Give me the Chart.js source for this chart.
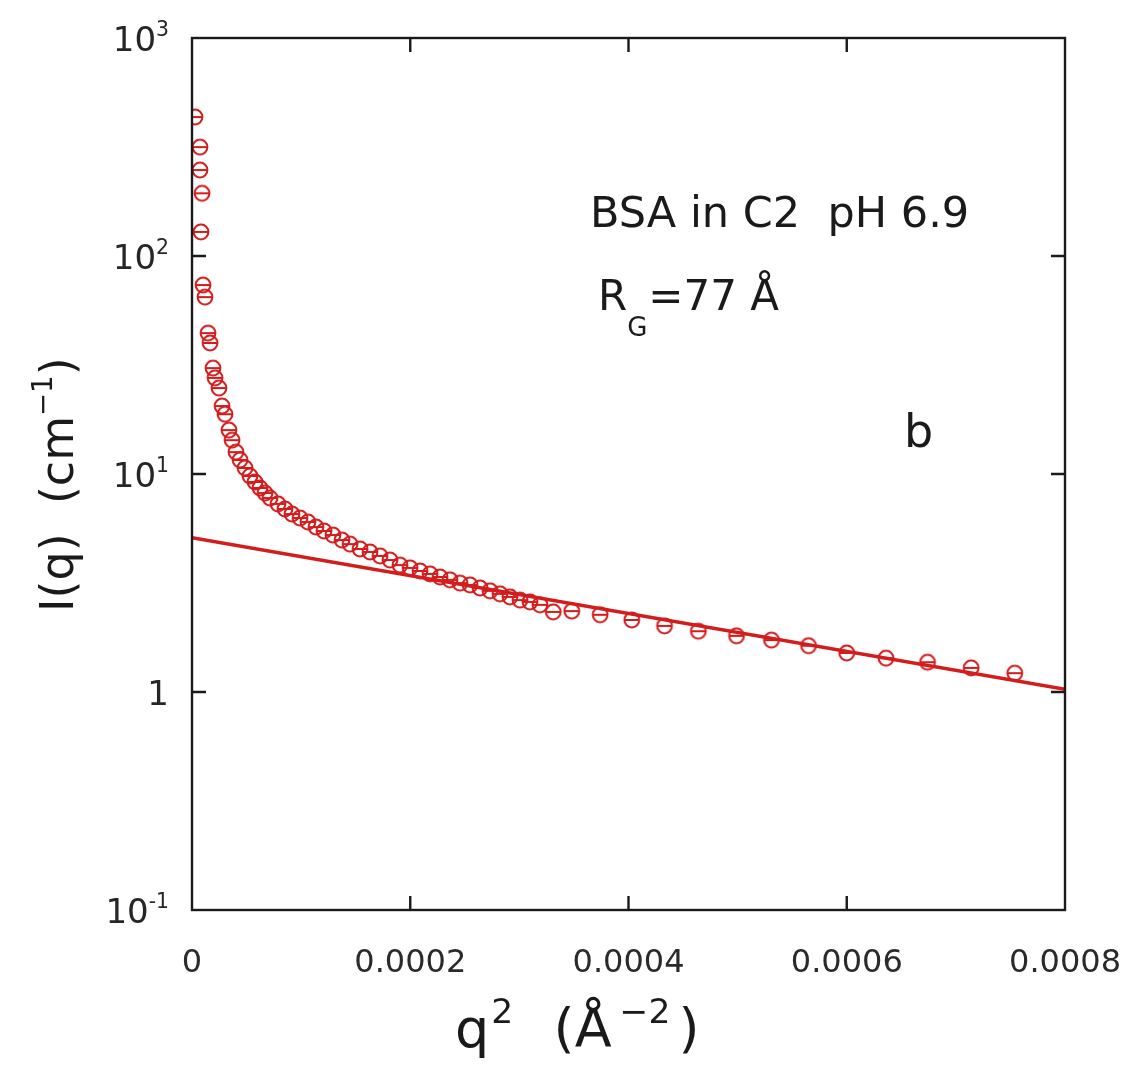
<!DOCTYPE html>
<html>
<head>
<meta charset="utf-8">
<script src="https://cdn.jsdelivr.net/npm/chart.js@4/dist/chart.umd.min.js"></script>
<style>
  html, body { margin: 0; padding: 0; background: #fff; }
  #wrap { width: 1132px; height: 1065px; }
</style>
</head>
<body>
<div id="wrap"><canvas id="c" width="1132" height="1065"></canvas></div>
<script>
// ---- data ----
const qSquared = [
  0.0000027, 0.0000073, 0.0000073, 0.0000092, 0.0000082, 0.0000101, 0.0000119,
  0.0000147, 0.0000165, 0.0000192, 0.0000211, 0.0000247, 0.0000275, 0.0000302,
  0.0000339, 0.0000367, 0.0000403, 0.0000440, 0.0000486, 0.0000531, 0.0000577,
  0.0000623, 0.0000669, 0.0000715, 0.0000788, 0.0000852, 0.0000916, 0.0000990,
  0.0001063, 0.0001136, 0.0001210, 0.0001292, 0.0001374, 0.0001448, 0.0001540,
  0.0001631, 0.0001723, 0.0001814, 0.0001906, 0.0001998, 0.0002089, 0.0002181,
  0.0002273, 0.0002364, 0.0002456, 0.0002548, 0.0002639, 0.0002731, 0.0002822,
  0.0002914, 0.0003006, 0.0003097, 0.0003189,
  0.0003310, 0.0003480, 0.0003740, 0.0004030, 0.0004330, 0.0004640, 0.0004990,
  0.0005310, 0.0005650, 0.0006000, 0.0006360, 0.0006740, 0.0007140, 0.0007540
];
const intensity = [
  434, 316, 248, 194, 129, 73.6, 64.8,
  44.3, 39.9, 30.6, 27.6, 24.8, 20.5, 18.8,
  15.9, 14.3, 12.6, 11.6, 10.66, 9.79, 9.19,
  8.63, 8.18, 7.76, 7.29, 6.91, 6.55, 6.28,
  6.02, 5.71, 5.48, 5.25, 4.98, 4.77, 4.53,
  4.39, 4.21, 4.03, 3.82, 3.71, 3.59, 3.48,
  3.37, 3.27, 3.16, 3.10, 3.00, 2.91, 2.82,
  2.73, 2.64, 2.59, 2.51,
  2.33, 2.35, 2.26, 2.14, 2.01, 1.90, 1.81,
  1.73, 1.63, 1.51, 1.43, 1.37, 1.29, 1.22
];
// Guinier fit line (R_G = 77 Å)
const fitQSquared = [0, 0.0008];
const fitIntensity = [5.1, 1.03];

const xTickValues = [0, 0.0002, 0.0004, 0.0006, 0.0008];
const xTickLabels = ['0', '0.0002', '0.0004', '0.0006', '0.0008'];
const yTickValues = [0.1, 1, 10, 100, 1000];
const yTickBase = ['10', '1', '10', '10', '10'];
const yTickExp = ['-1', '', '1', '2', '3'];

// ---- styles ----
const RED = 'rgb(212,28,28)';
const INK = '#1a1a1a';
const FONT = '"DejaVu Sans", "Open Sans", sans-serif';

// marker: open circle with a horizontal bar (⊖)
function makeMarker() {
  const s = 20, c = document.createElement('canvas');
  c.width = s; c.height = s;
  const g = c.getContext('2d');
  g.strokeStyle = RED; g.lineWidth = 2;
  g.beginPath(); g.arc(s / 2, s / 2, 7.4, 0, Math.PI * 2); g.stroke();
  g.beginPath(); g.moveTo(s / 2 - 7.4, s / 2); g.lineTo(s / 2 + 7.4, s / 2); g.stroke();
  return c;
}
const marker = makeMarker();

const points = qSquared.map((x, i) => ({ x: x, y: intensity[i] }));
const fitPoints = fitQSquared.map((x, i) => ({ x: x, y: fitIntensity[i] }));

// parts: [[text, kind]] kind: 'n' | 'sup' | 'sub' | number (gap in px)
function partsWidth(ctx, parts, size) {
  let w = 0;
  for (const [t, kind] of parts) {
    if (typeof kind === 'number') { w += kind; continue; }
    const fs = kind === 'n' ? size : size * 0.6;
    ctx.font = fs + 'px ' + FONT;
    w += ctx.measureText(t).width;
  }
  return w;
}
function drawParts(ctx, parts, x, y, size, supScale) {
  const ss = supScale || 0.6;
  let cx = x;
  for (const [t, kind] of parts) {
    if (typeof kind === 'number') { cx += kind; continue; }
    let fs = size, dy = 0;
    if (kind === 'sup') { fs = size * ss; dy = -size * 0.45; }
    if (kind === 'sub') { fs = size * 0.62; dy = size * 0.62; }
    ctx.font = fs + 'px ' + FONT;
    ctx.fillText(t, cx, y + dy);
    cx += ctx.measureText(t).width;
  }
  return cx - x;
}

const framePlugin = {
  id: 'frame',
  afterDraw(chart) {
    const { ctx, chartArea: a, scales } = chart;
    ctx.save();
    ctx.strokeStyle = INK;
    ctx.lineWidth = 2.4;
    ctx.strokeRect(a.left, a.top, a.right - a.left, a.bottom - a.top);
    const L = 14;
    ctx.beginPath();
    for (const v of xTickValues.slice(1, -1)) {
      const px = scales.x.getPixelForValue(v);
      ctx.moveTo(px, a.bottom); ctx.lineTo(px, a.bottom - L);
      ctx.moveTo(px, a.top); ctx.lineTo(px, a.top + L);
    }
    for (const v of yTickValues.slice(1, -1)) {
      const py = scales.y.getPixelForValue(v);
      ctx.moveTo(a.left, py); ctx.lineTo(a.left + L, py);
      ctx.moveTo(a.right, py); ctx.lineTo(a.right - L, py);
    }
    ctx.stroke();

    ctx.fillStyle = '#262626';
    ctx.textBaseline = 'alphabetic';
    ctx.textAlign = 'left';

    // y tick labels with real superscripts
    yTickValues.forEach((v, i) => {
      const py = scales.y.getPixelForValue(v);
      const parts = [[yTickBase[i], 'n']];
      if (yTickExp[i]) parts.push([yTickExp[i], 'sup']);
      const w = partsWidth(ctx, parts, 34);
      drawParts(ctx, parts, a.left - 23 - w, py + 13, 34);
    });

    // annotations
    ctx.fillStyle = INK;
    ctx.font = '43px ' + FONT;
    ctx.fillText('BSA in C2  pH 6.9', 590, 227);
    drawParts(ctx, [['R', 'n'], ['G', 'sub'], [1, 1], ['=77 \u00C5', 'n']], 598, 310, 42);
    ctx.font = '46px ' + FONT;
    ctx.fillText('b', 904, 447);

    // x-axis title
    drawParts(ctx, [['q', 'n'], [2, 2], ['2', 'sup'], ['  ', 'n'], [6, 6], ['(\u00C5', 'n'], [8, 8], ['\u22122', 'sup'], [8, 8], [')', 'n']], 455, 1047, 54, 0.64);

    // y-axis title (rotated)
    ctx.save();
    ctx.translate(73, 612);
    ctx.rotate(-Math.PI / 2);
    drawParts(ctx, [['I(q)  (cm', 'n'], ['\u22121', 'sup'], [')', 'n']], 0, 0, 46);
    ctx.restore();
    ctx.restore();
  }
};

new Chart(document.getElementById('c'), {
  type: 'scatter',
  data: {
    datasets: [
      {
        type: 'line',
        label: 'Guinier fit',
        data: fitPoints,
        borderColor: RED,
        borderWidth: 3.4,
        pointRadius: 0,
        fill: false,
        tension: 0
      },
      {
        label: 'BSA in C2 pH 6.9',
        data: points,
        pointStyle: marker,
        pointRadius: 8,
        showLine: false
      }
    ]
  },
  plugins: [framePlugin],
  options: {
    responsive: false,
    animation: false,
    devicePixelRatio: 1,
    layout: { padding: { top: 38, right: 67, left: 0, bottom: 0 } },
    plugins: { legend: { display: false }, tooltip: { enabled: false } },
    scales: {
      x: {
        type: 'linear',
        min: 0, max: 0.0008,
        afterBuildTicks: s => { s.ticks = xTickValues.map(v => ({ value: v })); },
        afterFit: s => { s.height = 155; s.paddingLeft = 0; s.paddingRight = 0; },
        grid: { display: false, drawTicks: false },
        border: { display: false },
        ticks: {
          callback: (v, i) => xTickLabels[i],
          font: { family: FONT, size: 32 },
          color: '#2a2a2a',
          padding: 34,
          maxRotation: 0,
          autoSkip: false
        }
      },
      y: {
        type: 'logarithmic',
        min: 0.1, max: 1000,
        afterBuildTicks: s => { s.ticks = yTickValues.map(v => ({ value: v })); },
        afterFit: s => { s.width = 192; s.paddingTop = 0; s.paddingBottom = 0; },
        grid: { display: false, drawTicks: false },
        border: { display: false },
        ticks: { display: false }
      }
    }
  }
});
</script>
</body>
</html>
